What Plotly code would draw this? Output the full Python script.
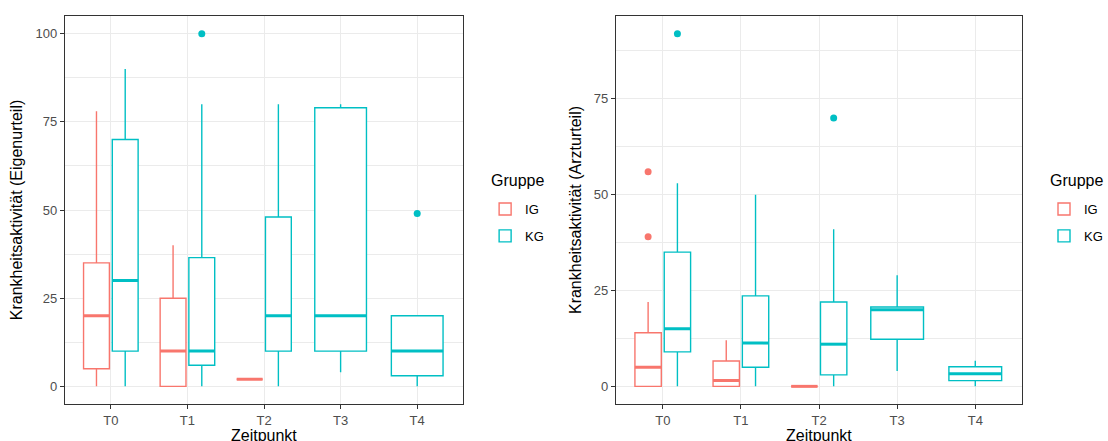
import plotly.graph_objects as go

# ---------------- data ----------------
timepoints = ["T0", "T1", "T2", "T3", "T4"]
groups = ["IG", "KG"]
colors = {"IG": "#F8766D", "KG": "#00BFC4"}

# Panel 1: Krankheitsaktivität (Eigenurteil)  -- per group, per timepoint (None = no data)
eigen_low = {"IG": [0, 0, 2, None, None], "KG": [0, 0, 0, 4, 0]}
eigen_q1 = {"IG": [5, 0, 2, None, None], "KG": [10, 6, 10, 10, 3]}
eigen_med = {"IG": [20, 10, 2, None, None], "KG": [30, 10, 20, 20, 10]}
eigen_q3 = {"IG": [35, 25, 2, None, None], "KG": [70, 36.5, 48, 79, 20]}
eigen_up = {"IG": [78, 40, 2, None, None], "KG": [90, 80, 80, 80, 20]}
eigen_out = {"IG": [[], [], [], [], []], "KG": [[], [100], [], [], [49]]}

# Panel 2: Krankheitsaktivität (Arzturteil)
arzt_low = {"IG": [0, 0, 0, None, None], "KG": [0, 0, 0, 4, 0]}
arzt_q1 = {"IG": [0, 0, 0, None, None], "KG": [9, 5, 3, 12.3, 1.5]}
arzt_med = {"IG": [5, 1.5, 0, None, None], "KG": [15, 11.3, 11, 20, 3.3]}
arzt_q3 = {"IG": [14, 6.6, 0, None, None], "KG": [35, 23.6, 22, 20.7, 5.1]}
arzt_up = {"IG": [22, 12, 0, None, None], "KG": [53, 50, 41, 29, 6.7]}
arzt_out = {"IG": [[56, 39], [], [], [], []], "KG": [[92], [], [70], [], []]}

y_titles = ["Krankheitsaktivität (Eigenurteil)", "Krankheitsaktivität (Arzturteil)"]
x_title = "Zeitpunkt"
legend_title = "Gruppe"
y_ticks = [[0, 25, 50, 75, 100], [0, 25, 50, 75]]

panels = [
    (eigen_low, eigen_q1, eigen_med, eigen_q3, eigen_up, eigen_out),
    (arzt_low, arzt_q1, arzt_med, arzt_q3, arzt_up, arzt_out),
]

# ---------------- figure ----------------
W, H = 1108, 441
fig = go.Figure()

TOTAL = 0.75
PAD = 0.1
FONT = "Liberation Sans, Arial, Helvetica, sans-serif"

for p, (lo, q1, med, q3, up, out) in enumerate(panels):
    xa = "x" if p == 0 else "x2"
    ya = "y" if p == 0 else "y2"
    leg = "legend" if p == 0 else "legend2"
    shown = set()
    for i, tp in enumerate(timepoints):
        present = [g for g in groups if med[g][i] is not None]
        n = len(present)
        slot = TOTAL / n
        for k, g in enumerate(present):
            center = i - TOTAL / 2 + slot * (k + 0.5)
            w = slot * (1 - PAD)
            show = g not in shown
            shown.add(g)
            fig.add_trace(go.Box(
                x=[center], q1=[q1[g][i]], median=[med[g][i]], q3=[q3[g][i]],
                lowerfence=[lo[g][i]], upperfence=[up[g][i]],
                width=w, whiskerwidth=0, name=g, legendgroup=g,
                showlegend=show, legend=leg,
                line=dict(color=colors[g], width=1.4), fillcolor="white",
                xaxis=xa, yaxis=ya, hoverinfo="skip",
            ))
            # thicker median line (as in ggplot)
            fig.add_trace(go.Scatter(
                x=[center - w / 2, center + w / 2], y=[med[g][i], med[g][i]],
                mode="lines", line=dict(color=colors[g], width=3),
                showlegend=False, xaxis=xa, yaxis=ya, hoverinfo="skip",
            ))
            if out[g][i]:
                fig.add_trace(go.Scatter(
                    x=[center] * len(out[g][i]), y=out[g][i], mode="markers",
                    marker=dict(color=colors[g], size=7),
                    showlegend=False, xaxis=xa, yaxis=ya, hoverinfo="skip",
                ))

def px_x(a, b):
    return [a / W, b / W]

def px_y(top, bottom):
    return [(H - bottom) / H, (H - top) / H]

axis_common = dict(
    showline=True, mirror=True, linecolor="#333333", linewidth=1,
    showgrid=True, gridcolor="#EBEBEB", gridwidth=1.1, zeroline=False,
    ticks="outside", ticklen=4, tickcolor="#333333", tickwidth=1,
    tickfont=dict(family=FONT, size=13, color="#4D4D4D"),
    automargin=False,
)

xdom = [px_x(65, 464), px_x(617, 1024)]
ydom = px_y(16, 404)
yranges = [[-5, 105], [-4.6, 96.6]]

for p in range(2):
    sx = "" if p == 0 else "2"
    fig.update_layout(**{
        "xaxis" + sx: dict(
            axis_common, domain=xdom[p], range=[-0.6, 4.6],
            tickmode="array", tickvals=list(range(len(timepoints))), ticktext=timepoints,
            anchor="y" + sx,
        ),
        "yaxis" + sx: dict(
            axis_common, domain=ydom, range=yranges[p],
            tickmode="array", tickvals=y_ticks[p],
            minor=dict(dtick=12.5, tick0=0, showgrid=True, gridcolor="#EBEBEB", gridwidth=0.6, ticks=""),
            title=dict(text=y_titles[p], font=dict(family=FONT, size=16, color="black"), standoff=8),
            anchor="x" + sx,
        ),
    })
    # x-axis title placed as annotation (partly cut at the bottom as in the reference)
    fig.add_annotation(
        text=x_title, xref="paper", yref="paper",
        x=sum(xdom[p]) / 2, y=(H - 425) / H, xanchor="center", yanchor="top",
        showarrow=False, font=dict(family=FONT, size=16, color="black"),
    )

legend_common = dict(
    font=dict(family=FONT, size=13, color="black"),
    bgcolor="rgba(0,0,0,0)", tracegroupgap=7,
    xanchor="left", yanchor="top", itemclick=False,
)
legend_x = [486, 1046]
for lx in legend_x:
    fig.add_annotation(
        text=legend_title, xref="paper", yref="paper",
        x=(lx + 4) / W, y=(H - 180) / H, xanchor="left", yanchor="middle",
        showarrow=False, font=dict(family=FONT, size=16, color="black"),
    )

fig.update_layout(
    width=W, height=H, margin=dict(l=0, r=0, t=0, b=0),
    paper_bgcolor="white", plot_bgcolor="white",
    boxmode="overlay", template="none",
    legend=dict(legend_common, x=legend_x[0] / W, y=(H - 194) / H),
    legend2=dict(legend_common, x=legend_x[1] / W, y=(H - 194) / H),
    font=dict(family=FONT),
)

fig.write_html("out.html")
